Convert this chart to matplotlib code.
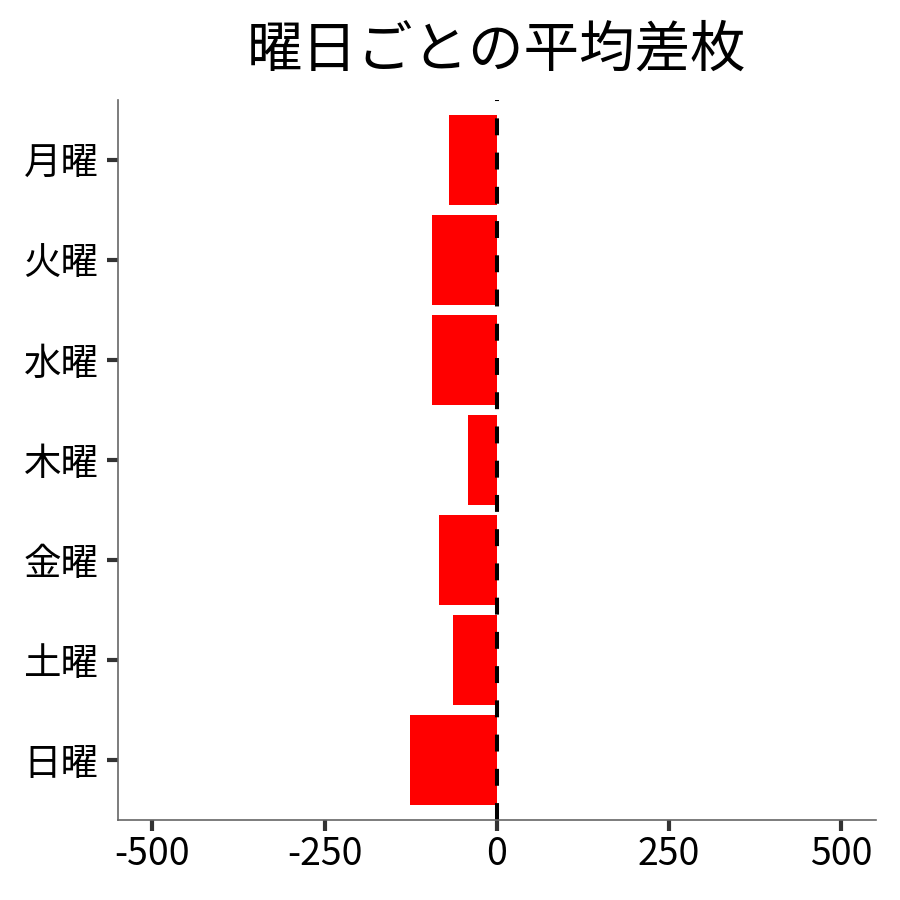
import matplotlib
matplotlib.use("Agg")
import matplotlib.pyplot as plt

plt.rcParams['font.family'] = ['Noto Sans CJK JP', 'DejaVu Sans']
plt.rcParams['axes.unicode_minus'] = False

# data
days = ["月曜", "火曜", "水曜", "木曜", "金曜", "土曜", "日曜"]
avg_diff = [-69, -94, -94, -42, -84, -64, -126]
x_ticks = [-500, -250, 0, 250, 500]

fig = plt.figure(figsize=(9, 9), dpi=100)
ax = fig.add_axes([0.131, 0.089, 0.842, 0.8])

ypos = list(range(len(days)))
ax.barh(ypos, avg_diff, height=0.9, color="#ff0000")
ax.axvline(0, color="black", linestyle=(0, (4.2, 4.3)), linewidth=2.9)

ax.set_yticks(ypos)
ax.set_yticklabels(days, fontsize=27)
ax.set_ylim(len(days) - 0.4, -0.6)
ax.set_xlim(-550, 550)
ax.set_xticks(x_ticks)
ax.set_xticklabels([str(v) for v in x_ticks], fontsize=27)

for s in ["top", "right"]:
    ax.spines[s].set_visible(False)
for s in ["left", "bottom"]:
    ax.spines[s].set_color("#666666")
    ax.spines[s].set_linewidth(1.2)
ax.tick_params(axis="both", colors="#333333", width=3, length=8, labelcolor="black")
ax.tick_params(axis="y", pad=6)
ax.tick_params(axis="x", pad=3)

ax.set_title("曜日ごとの平均差枚", fontsize=40, pad=24)

fig.savefig("out.png", dpi=100)
